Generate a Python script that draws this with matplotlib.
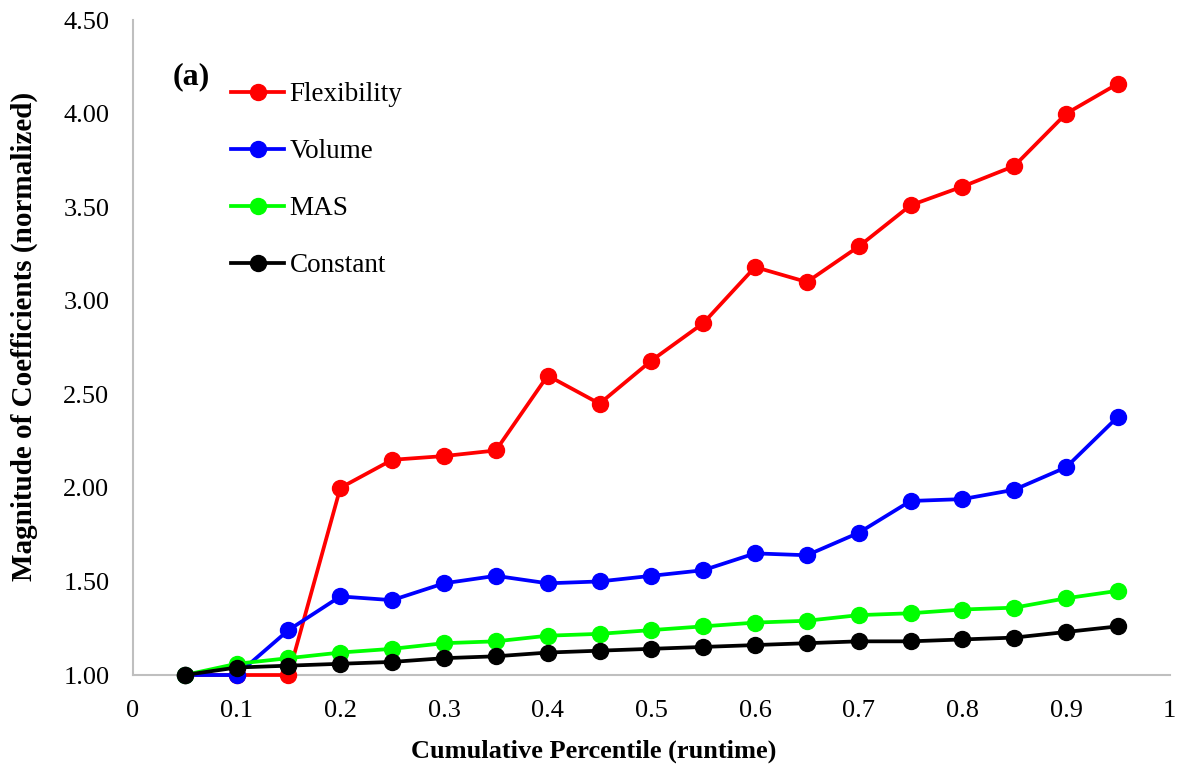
import matplotlib
matplotlib.use("Agg")
import matplotlib.pyplot as plt

percentile = [0.05, 0.10, 0.15, 0.20, 0.25, 0.30, 0.35, 0.40, 0.45, 0.50,
              0.55, 0.60, 0.65, 0.70, 0.75, 0.80, 0.85, 0.90, 0.95]
flexibility = [1.00, 1.00, 1.00, 2.00, 2.15, 2.17, 2.20, 2.60, 2.45, 2.68,
               2.88, 3.18, 3.10, 3.29, 3.51, 3.61, 3.72, 4.00, 4.16]
volume = [1.00, 1.00, 1.24, 1.42, 1.40, 1.49, 1.53, 1.49, 1.50, 1.53,
          1.56, 1.65, 1.64, 1.76, 1.93, 1.94, 1.99, 2.11, 2.38]
mas = [1.00, 1.06, 1.09, 1.12, 1.14, 1.17, 1.18, 1.21, 1.22, 1.24,
       1.26, 1.28, 1.29, 1.32, 1.33, 1.35, 1.36, 1.41, 1.45]
constant = [1.00, 1.04, 1.05, 1.06, 1.07, 1.09, 1.10, 1.12, 1.13, 1.14,
            1.15, 1.16, 1.17, 1.18, 1.18, 1.19, 1.20, 1.23, 1.26]

series = [("Flexibility", flexibility, "#FF0000"),
          ("Volume", volume, "#0000FF"),
          ("MAS", mas, "#00FF00"),
          ("Constant", constant, "#000000")]

xticks = [0, 0.1, 0.2, 0.3, 0.4, 0.5, 0.6, 0.7, 0.8, 0.9, 1]
xtick_labels = ["0", "0.1", "0.2", "0.3", "0.4", "0.5", "0.6", "0.7", "0.8", "0.9", "1"]
yticks = [1.0, 1.5, 2.0, 2.5, 3.0, 3.5, 4.0, 4.5]

plt.rcParams["font.family"] = ["Liberation Serif", "DejaVu Serif"]

fig = plt.figure(figsize=(11.84, 7.71), dpi=100)
ax = fig.add_axes([0.1123, 0.1245, 0.8757, 0.8495])

for name, vals, color in series:
    ax.plot(percentile, vals, color=color, lw=2.7, marker="o", ms=11.5,
            label=name, clip_on=False, zorder=3)

ax.set_xlim(0, 1)
ax.set_ylim(1.0, 4.5)
ax.set_xticks(xticks)
ax.set_xticklabels(xtick_labels)
ax.set_yticks(yticks)
ax.set_yticklabels([f"{v:.2f}" for v in yticks])
ax.tick_params(length=0, labelsize=19)
ax.tick_params(axis="x", pad=18)
ax.tick_params(axis="y", pad=17)

for side in ("top", "right"):
    ax.spines[side].set_visible(False)
for side in ("left", "bottom"):
    ax.spines[side].set_color("#BFBFBF")
    ax.spines[side].set_linewidth(1.5)

# Axis titles placed in figure coordinates
fig.text(0.5017, 0.025, "Cumulative Percentile (runtime)", fontsize=19,
         fontweight="bold", ha="center", va="center")
fig.text(0.0205, 0.563, "Magnitude of Coefficients (normalized)", fontsize=21,
         fontweight="bold", ha="center", va="center", rotation=90)

ax.text(0.0386, 0.936, "(a)", transform=ax.transAxes, fontsize=23,
        fontweight="bold", va="top", ha="left")

ax.legend(loc="upper left", bbox_to_anchor=(0.0714, 0.942), frameon=False,
          fontsize=19.5, labelspacing=1.18, handlelength=1.95, handletextpad=0.2)

fig.savefig("out.png", dpi=100)
